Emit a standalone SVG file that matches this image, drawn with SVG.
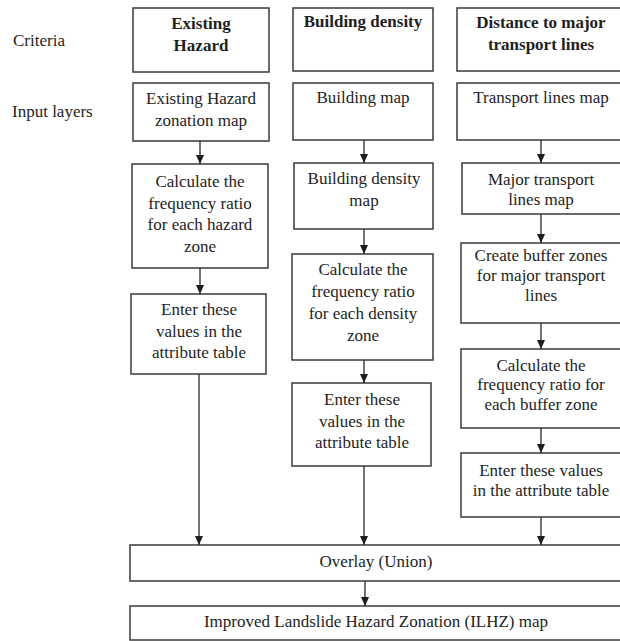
<svg xmlns="http://www.w3.org/2000/svg" width="620" height="641" viewBox="0 0 620 641">
<style>
.box{fill:#fff;stroke:#3a3a3a;stroke-width:1.5}
text{font-family:"Liberation Serif","Times New Roman",serif;font-size:17px;fill:#1e1e1e;text-anchor:middle}
.b{font-weight:bold}
.l{text-anchor:start}
.c line{stroke:#2a2a2a;stroke-width:1.3;marker-end:url(#ah)}
</style>
<defs>
<marker id="ah" markerUnits="userSpaceOnUse" markerWidth="9" markerHeight="8" refX="9" refY="4" orient="auto" viewBox="0 0 9 8">
<path d="M0,0 L9,4 L0,8 Z" fill="#1e1e1e"/>
</marker>
</defs>
<rect width="620" height="641" fill="#fff"/>
<g id="labels">
<text class="l" x="13" y="46">Criteria</text>
<text class="l" x="12" y="117">Input layers</text>
</g>
<g id="crit1"><rect class="box" x="133" y="8" width="136" height="64"/><text class="b" x="201" y="29">Existing</text><text class="b" x="201" y="51">Hazard</text></g>
<g id="crit2"><rect class="box" x="293" y="8" width="140" height="63"/><text class="b" x="363" y="27">Building density</text></g>
<g id="crit3"><rect class="box" x="457" y="8" width="168" height="63"/><text class="b" x="541" y="28">Distance to major</text><text class="b" x="541" y="50">transport lines</text></g>
<g id="in1"><rect class="box" x="133" y="83" width="136" height="58"/><text x="201" y="104">Existing Hazard</text><text x="201" y="126">zonation map</text></g>
<g id="in2"><rect class="box" x="293" y="83" width="140" height="57"/><text x="363" y="103">Building map</text></g>
<g id="in3"><rect class="box" x="457" y="83" width="168" height="57"/><text x="541" y="103">Transport lines map</text></g>
<g id="c1a"><rect class="box" x="132" y="164" width="136" height="104"/><text x="200" y="187">Calculate the</text><text x="200" y="209">frequency ratio</text><text x="200" y="230">for each hazard</text><text x="200" y="252">zone</text></g>
<g id="c1b"><rect class="box" x="131" y="294" width="135" height="80"/><text x="199" y="315">Enter these</text><text x="199" y="337">values in the</text><text x="199" y="358">attribute table</text></g>
<g id="c2a"><rect class="box" x="294" y="163" width="139" height="66"/><text x="364" y="184">Building density</text><text x="364" y="206">map</text></g>
<g id="c2b"><rect class="box" x="292" y="254" width="141" height="106"/><text x="363" y="275">Calculate the</text><text x="363" y="297">frequency ratio</text><text x="363" y="319">for each density</text><text x="363" y="341">zone</text></g>
<g id="c2c"><rect class="box" x="292" y="383" width="139" height="83"/><text x="362" y="405">Enter these</text><text x="362" y="427">values in the</text><text x="362" y="448">attribute table</text></g>
<g id="c3a"><rect class="box" x="462" y="163" width="163" height="51"/><text x="541" y="185">Major transport</text><text x="541" y="205">lines map</text></g>
<g id="c3b"><rect class="box" x="461" y="243" width="164" height="80"/><text x="541" y="261">Create buffer zones</text><text x="541" y="281">for major transport</text><text x="541" y="301">lines</text></g>
<g id="c3c"><rect class="box" x="461" y="349" width="164" height="79"/><text x="541" y="371">Calculate the</text><text x="541" y="390">frequency ratio for</text><text x="541" y="410">each buffer zone</text></g>
<g id="c3d"><rect class="box" x="461" y="453" width="164" height="64"/><text x="541" y="476">Enter these values</text><text x="541" y="496">in the attribute table</text></g>
<g id="overlay"><rect class="box" x="130" y="545" width="495" height="36"/><text x="376" y="567">Overlay (Union)</text></g>
<g id="ilhz"><rect class="box" x="130" y="606" width="495" height="34"/><text x="376" y="627">Improved Landslide Hazard Zonation (ILHZ) map</text></g>
<g class="c" id="connectors">
<line x1="200" y1="141" x2="200" y2="164"/>
<line x1="200" y1="268" x2="200" y2="294"/>
<line x1="199" y1="374" x2="199" y2="545"/>
<line x1="364" y1="140" x2="364" y2="163"/>
<line x1="364" y1="229" x2="364" y2="254"/>
<line x1="364" y1="360" x2="364" y2="383"/>
<line x1="364" y1="466" x2="364" y2="545"/>
<line x1="541" y1="140" x2="541" y2="163"/>
<line x1="541" y1="214" x2="541" y2="243"/>
<line x1="541" y1="323" x2="541" y2="349"/>
<line x1="541" y1="428" x2="541" y2="453"/>
<line x1="541" y1="517" x2="541" y2="545"/>
<line x1="365" y1="581" x2="365" y2="606"/>
</g>
</svg>
